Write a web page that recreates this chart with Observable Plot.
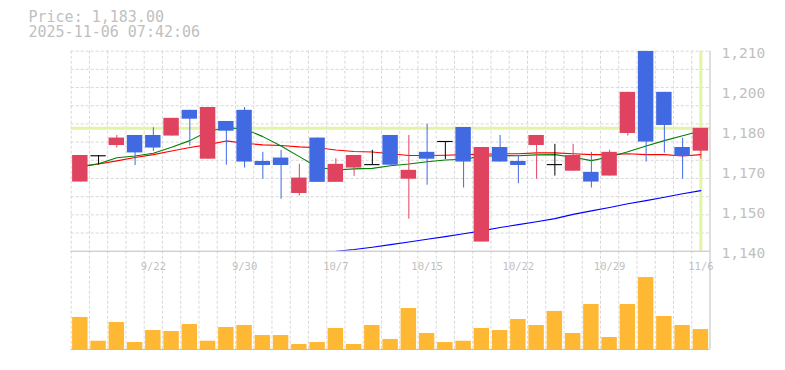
<!DOCTYPE html>
<html><head><meta charset="utf-8">
<script src="https://cdn.jsdelivr.net/npm/d3@7"></script>
<script src="https://cdn.jsdelivr.net/npm/@observablehq/plot@0.6"></script>
<style>
html,body{margin:0;padding:0;background:#fff;}
#wrap{position:relative;width:785px;height:370px;overflow:hidden;}
#wrap svg{position:absolute;left:0;top:0;}
#title{position:absolute;left:28.5px;top:10px;font:15px/15px "DejaVu Sans Mono",monospace;color:#bfbfbf;white-space:pre;}
</style></head><body>
<div id="wrap"><div id="title"></div></div>
<script>
const titleLines = ["Price: 1,183.00", "2025-11-06 07:42:06"];
const dates = ["9/16","9/17","9/18","9/19","9/22","9/24","9/25","9/26","9/29","9/30","10/1","10/2","10/3","10/6","10/7","10/8","10/9","10/10","10/14","10/15","10/16","10/17","10/20","10/21","10/22","10/23","10/24","10/27","10/28","10/29","10/30","10/31","11/4","11/5","11/6"];
const opens  = [1164.2,1173.4,1177.0,1180.5,1180.5,1180.3,1189.3,1172.2,1185.4,1189.3,1171.4,1172.6,1160.2,1179.6,1164.1,1169.1,1170.3,1180.5,1165.2,1174.6,1178.4,1183.3,1143.2,1176.3,1171.4,1177.0,1170.3,1168.0,1167.6,1166.3,1181.2,1210.0,1195.6,1176.3,1175.0];
const highs  = [1173.5,1173.4,1180.5,1180.5,1183.2,1186.5,1189.3,1190.3,1185.4,1190.3,1174.6,1175.3,1170.4,1179.6,1172.4,1173.5,1175.3,1180.5,1180.5,1184.4,1178.4,1183.3,1176.3,1180.5,1173.3,1180.5,1177.4,1177.4,1174.6,1175.3,1195.6,1210.0,1195.6,1179.5,1183.0];
const lows   = [1164.2,1170.2,1176.1,1170.0,1174.9,1180.3,1176.8,1172.2,1170.1,1169.1,1165.2,1158.2,1159.3,1164.1,1164.1,1166.2,1170.3,1170.1,1151.2,1163.1,1172.1,1162.1,1143.2,1171.2,1163.6,1165.2,1166.3,1168.0,1162.1,1166.3,1180.3,1171.2,1174.3,1165.2,1172.2];
const closes = [1173.5,1173.4,1179.6,1174.4,1176.1,1186.5,1186.2,1190.3,1182.0,1171.2,1170.0,1170.0,1165.6,1164.1,1170.4,1173.5,1170.3,1170.1,1168.3,1172.2,1178.4,1171.2,1176.3,1171.2,1170.0,1180.5,1170.3,1173.5,1164.2,1174.6,1195.6,1178.2,1184.0,1173.2,1183.0];
const maShort = [1169.6,1170.6,1172.7,1173.3,1174.3,1176.4,1178.7,1182.0,1183.2,1182.8,1180.1,1176.8,1173.1,1169.4,1168.4,1168.8,1169.0,1169.9,1170.5,1171.3,1171.9,1172.2,1173.2,1173.5,1173.4,1173.7,1173.8,1172.9,1171.7,1173.0,1174.8,1176.8,1178.7,1180.4,1182.1];
const maMid = [1169.6,1170.5,1171.6,1172.8,1173.8,1175.1,1176.3,1177.3,1178.6,1177.8,1177.2,1177.0,1176.5,1176.2,1175.4,1174.9,1174.7,1174.1,1173.5,1173.5,1173.6,1173.8,1173.9,1174.1,1174.1,1174.4,1174.4,1174.1,1173.8,1173.8,1174.1,1173.8,1173.8,1173.3,1173.8];
const maLong = [null,null,null,null,null,null,null,null,null,null,null,null,null,null,1140.0,1140.6,1141.4,1142.3,1143.2,1144.2,1145.1,1146.1,1147.1,1148.3,1149.3,1150.3,1151.4,1152.9,1154.1,1155.3,1156.6,1157.7,1158.9,1160.1,1161.2];
const volumes = [32.6,8.4,27.5,7.1,19.3,18.3,25.4,8.4,22.4,24.4,14.2,14.2,5.1,7.1,21.4,5.1,24.4,10.2,41.7,16.3,7.1,8.4,21.4,19.3,30.5,24.4,38.7,16.3,45.8,12.2,45.8,73.2,33.6,24.4,20.3];
const yTicks = [1140,1154,1168,1182,1196,1210];
const yTickLabels = ["1,140","1,150","1,170","1,180","1,200","1,210"];
const xTickDates = ["9/22","9/30","10/7","10/15","10/22","10/29","11/6"];
const lastPrice = 1183;
const priceDomain = [1140, 1210];
const volumeDomain = [0, 100];

document.getElementById("title").textContent = titleLines.join("\n");

const rows = dates.map((d, i) => ({
  i, date: d, open: opens[i], high: highs[i], low: lows[i], close: closes[i],
  ma5: maShort[i], ma25: maMid[i], ma75: maLong[i], vol: volumes[i]
}));
const UP = "#e0435f", DOWN = "#4169e1", FLAT = "#000000";
const candleColor = d => d.close > d.open ? UP : d.close < d.open ? DOWN : FLAT;

const W = 785, H = 370;
const font = "DejaVu Sans Mono, monospace";
const gridColor = "#d8d8d8";
const borderColor = "#bdbdbd";
const labelColor = "#bfbfbf";
const n = dates.length;
const boundaries = d3.range(n + 1).map(k => k - 0.5);
const gridY = d3.range(12).map(k => priceDomain[0] + k * (priceDomain[1] - priceDomain[0]) / 11);
const labelMap = new Map(yTicks.map((t, k) => [t, yTickLabels[k]]));

const common = {
  width: W, height: H, marginLeft: 70.7, marginRight: 75.5,
  x: {domain: [-0.5, n - 0.5], axis: null},
  color: {type: "identity"},
  style: {background: "transparent", overflow: "visible", fontFamily: font}
};

const price = Plot.plot({
  ...common,
  marginTop: 50.7, marginBottom: H - 250.7,
  y: {domain: priceDomain, axis: null},
  marks: [
    Plot.ruleY(gridY.slice(1), {stroke: gridColor, strokeDasharray: "3,2"}),
    Plot.ruleX(boundaries.slice(0, -1), {stroke: gridColor, strokeDasharray: "3,2"}),
    Plot.ruleY([lastPrice], {stroke: "#e2f4a6", strokeWidth: 3}),
    Plot.ruleX([n - 1], {stroke: "#e2f4a6", strokeWidth: 3}),
    Plot.line(rows, {x: "i", y: "ma25", stroke: "#ff0000", strokeWidth: 1.1, clip: true}),
    Plot.line(rows, {x: "i", y: "ma5", stroke: "#008000", strokeWidth: 1.1, clip: true}),
    Plot.line(rows, {x: "i", y: "ma75", stroke: "#0000ff", strokeWidth: 1.1, clip: true}),
    Plot.ruleX(rows, {x: "i", y1: "low", y2: "high", stroke: candleColor, strokeWidth: 1, clip: true}),
    Plot.rect(rows.filter(d => d.open !== d.close), {
      x1: d => d.i - 0.5, x2: d => d.i + 0.5, y1: "open", y2: "close",
      fill: candleColor, insetLeft: 1.4, insetRight: 1.4, clip: true
    }),
    Plot.ruleY(rows.filter(d => d.open === d.close), {
      y: "open", x1: d => d.i - 0.42, x2: d => d.i + 0.42, stroke: FLAT, strokeWidth: 1.1
    }),
    Plot.ruleY([priceDomain[0]], {stroke: borderColor}),
    Plot.ruleX([n - 0.5], {stroke: borderColor}),
    Plot.text(yTicks, {
      y: d => d, frameAnchor: "right", text: d => labelMap.get(d),
      textAnchor: "start", dx: 11.5, dy: 2.3, fill: labelColor, fontSize: 14.5, fontFamily: font
    })
  ]
});

const volume = Plot.plot({
  ...common,
  marginTop: 250.7, marginBottom: 21,
  y: {domain: volumeDomain, axis: null},
  marks: [
    Plot.ruleX(boundaries.slice(0, -1), {stroke: gridColor, strokeDasharray: "3,2"}),
    Plot.rectY(rows, {
      x1: d => d.i - 0.5, x2: d => d.i + 0.5, y: "vol",
      fill: "#ffb834", insetLeft: 1.4, insetRight: 1.4
    }),
    Plot.text(xTickDates, {
      x: d => dates.indexOf(d), frameAnchor: "top", text: d => d, dy: 11.3,
      fill: labelColor, fontSize: 10.5, fontFamily: font
    }),
    Plot.ruleY([0], {stroke: borderColor}),
    Plot.ruleX([n - 0.5], {stroke: borderColor})
  ]
});

const wrap = document.getElementById("wrap");
wrap.appendChild(volume);
wrap.appendChild(price);
</script>
</body></html>
